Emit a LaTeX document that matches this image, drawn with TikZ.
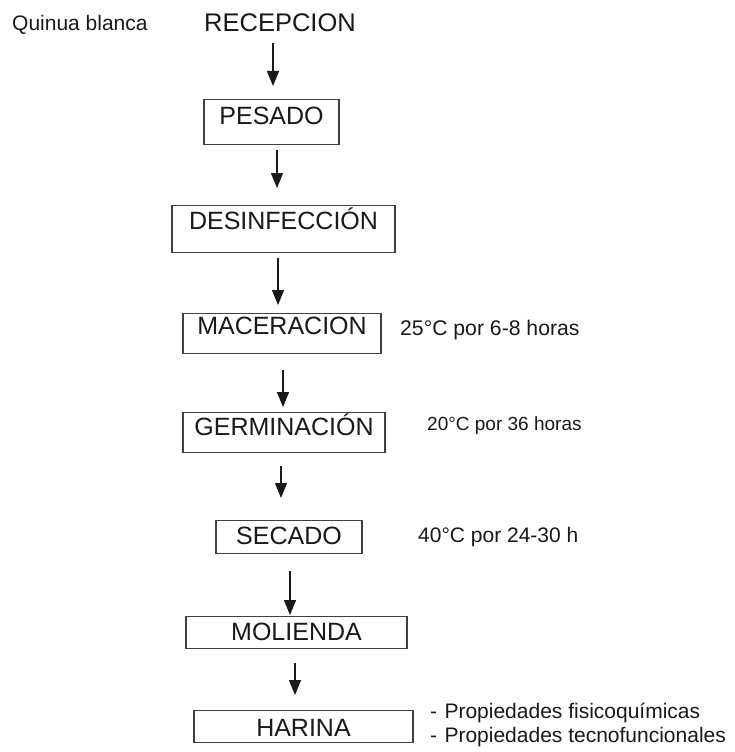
\documentclass[tikz,border=0pt]{standalone}
\usepackage{fontspec}
\setmainfont{Liberation Sans}
\usetikzlibrary{arrows.meta}
\begin{document}
\begin{tikzpicture}[x=1pt,y=-1pt,
  box/.style={draw=black!75, line width=1.1pt, inner sep=0pt, anchor=north, text=black!90,
              font=\fontsize{25}{30}\selectfont},
  lbl/.style={inner sep=0pt, anchor=base west, text=black!90, font=\fontsize{21}{25}\selectfont},
  arr/.style={draw=black!90, line width=1.3pt, -{Triangle[length=15pt,width=12pt]}}]
\useasboundingbox (0,0) rectangle (734,752);
\fill[white] (0,0) rectangle (734,752);

\node[inner sep=0pt, anchor=base west, text=black!90, font=\fontsize{21}{25}\selectfont] (quinua) at (12,31) {Quinua blanca};
\node[inner sep=0pt, anchor=base, text=black!90, font=\fontsize{25.5}{30}\selectfont] (recep) at (280,32) {RECEPCION};

\node[box, minimum width=135pt, text height=25pt, text depth=20pt] (pesado) at (271.5,99) {PESADO};
\node[box, minimum width=223pt, text height=24pt, text depth=23pt] (desinf) at (283.5,205) {DESINFECCIÓN};
\node[box, minimum width=198pt, text height=21pt, text depth=19pt] (macer) at (282,313) {MACERACION};
\node[box, minimum width=202pt, text height=23pt, text depth=17pt] (germ) at (284,412) {GERMINACIÓN};
\node[box, minimum width=146pt, text height=24pt, text depth=9pt] (secado) at (289,520) {SECADO};
\node[box, minimum width=221pt, text height=24pt, text depth=8pt] (mol) at (296.5,616) {MOLIENDA};
\node[box, minimum width=219pt, text height=26pt, text depth=6pt] (harina) at (303.5,710) {HARINA};

\node[lbl, font=\fontsize{21.2}{25}\selectfont] (l1) at (400,335) {25°C por 6-8 horas};
\node[lbl, font=\fontsize{19}{23}\selectfont] (l2) at (427,430) {20°C por 36 horas};
\node[lbl] (l3) at (418,542) {40°C por 24-30 h};
\node[lbl] (p1) at (430,718) {-\hspace{0.35em}Propiedades fisicoquímicas};
\node[lbl] (p2) at (430,742) {-\hspace{0.35em}Propiedades tecnofuncionales};

\draw[arr] ([xshift=-7pt,yshift=-11pt]recep.south) -- ([xshift=1.5pt,yshift=13pt]pesado.north);
\draw[arr] ([xshift=5.5pt,yshift=-5pt]pesado.south) -- ([xshift=-6.5pt,yshift=17pt]desinf.north);
\draw[arr] ([xshift=-5.5pt,yshift=-5pt]desinf.south) -- ([xshift=-4pt,yshift=8pt]macer.north);
\draw[arr] ([xshift=1pt,yshift=-16pt]macer.south) -- ([xshift=-1pt,yshift=5pt]germ.north);
\draw[arr] ([xshift=-3pt,yshift=-13pt]germ.south) -- ([xshift=-8pt,yshift=22pt]secado.north);
\draw[arr] ([xshift=1pt,yshift=-17pt]secado.south) -- ([xshift=-6.5pt,yshift=1pt]mol.north);
\draw[arr] ([xshift=-1.5pt,yshift=-14pt]mol.south) -- ([xshift=-8.5pt,yshift=15pt]harina.north);
\end{tikzpicture}
\end{document}
